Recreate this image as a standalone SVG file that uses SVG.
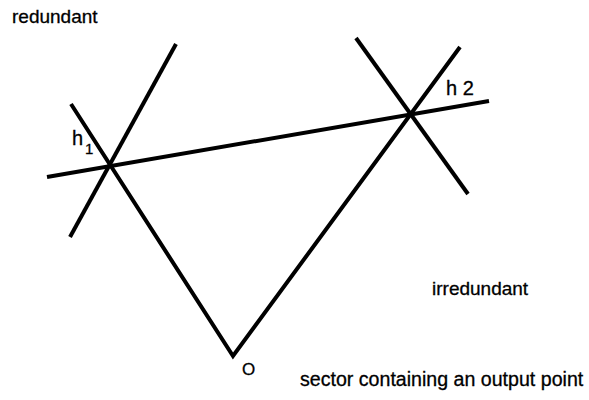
<svg xmlns="http://www.w3.org/2000/svg" width="589" height="400" viewBox="0 0 589 400">
<style>
.ln{stroke:#000;stroke-width:4;fill:none;stroke-linecap:butt;stroke-linejoin:miter}
.t{font-family:"Liberation Sans",Arial,sans-serif;font-size:19px;fill:#000;stroke:#000;stroke-width:0.3}
</style>
<rect width="589" height="400" fill="#fff"/>
<g id="lines">
<line class="ln" x1="47" y1="177" x2="489" y2="101"/>
<line class="ln" x1="176" y1="44" x2="70" y2="237"/>
<line class="ln" x1="356" y1="38" x2="468" y2="194"/>
<polyline class="ln" points="71,104 233,356 460,47"/>
</g>
<g id="labels">
<text class="t" x="72" y="145" style="font-size:20px">h</text>
<text class="t" x="85" y="154" style="font-size:15px">1</text>
<text class="t" x="446" y="95" style="font-size:20px">h 2</text>
<text class="t" x="12" y="23">redundant</text>
<text class="t" x="242" y="375" style="font-size:17px">O</text>
<text class="t" x="432" y="295">irredundant</text>
<text class="t" x="300" y="386" style="font-size:19.6px">sector containing an output point</text>
</g>
</svg>
